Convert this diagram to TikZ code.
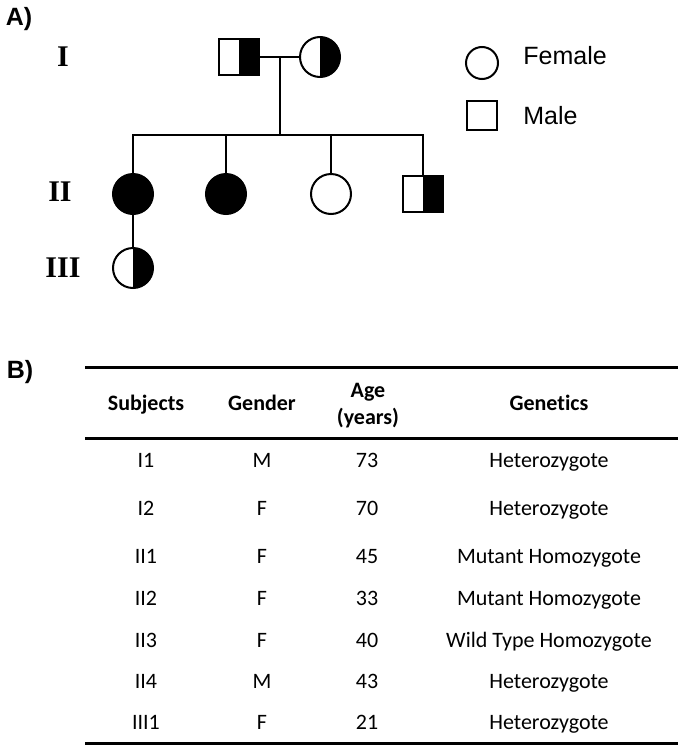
\documentclass[tikz,border=0pt]{standalone}
\usepackage{fontspec}
\setmainfont{Carlito}[Ligatures=NoCommon]
\newfontfamily\armfont{Liberation Sans}
\newfontfamily\genfont{Liberation Serif}
\usetikzlibrary{positioning}
\tikzset{
  female/.style={circle, draw, line width=1pt, minimum size=20pt, inner sep=0pt},
  male/.style={rectangle, draw, line width=1pt, minimum width=20pt, minimum height=18pt, inner sep=0pt},
  affected/.style={fill=black},
  carrier/.style={path picture={\fill[black] (path picture bounding box.north) rectangle (path picture bounding box.south east);}},
  gen/.style={font=\genfont\bfseries\fontsize{15}{16}\selectfont, text height=1.6ex, text depth=0pt},
  legend/.style={font=\armfont\fontsize{12.5}{13}\selectfont, anchor=west, inner sep=0pt, text height=1.6ex, text depth=0pt},
  panel/.style={font=\armfont\bfseries\fontsize{12.5}{13}\selectfont},
  cell/.style={font=\fontsize{11}{12}\selectfont, text height=1.6ex, text depth=0.3ex},
  head/.style={font=\bfseries\fontsize{11}{13.5}\selectfont, align=center, text height=1.6ex, text depth=0.3ex},
  rule/.style={line width=1.5pt},
  link/.style={line width=1pt}
}
\begin{document}
\begin{tikzpicture}[x=0.5pt, y=-0.5pt]
  \useasboundingbox (0,0) rectangle (683,750);
  % pedigree
  \node[panel] (pA) at (19,19) {A)};
  \node[gen] (gI) at (63,59) {I};
  \node[gen] (gII) at (60,194) {II};
  \node[gen] (gIII) at (63,270) {III};
  \node[male, carrier] (I1) at (239,57) {};
  \node[female, carrier] (I2) at (320,57) {};
  \coordinate (mate) at (280,57);
  \coordinate (sib) at (280,135);
  \node[female, affected] (II1) at (133,194) {};
  \node[female, affected] (II2) at (226,194) {};
  \node[female] (II3) at (331,194) {};
  \node[male, carrier] (II4) at (423,194) {};
  \node[female, carrier] (III1) at (133,268) {};
  \draw[link] (I1) -- (I2);
  \draw[link] (mate) -- (sib);
  \draw[link] (II1.north) -- (II1 |- sib) -- (II4 |- sib) -- (II4.north);
  \draw[link] (II2.north) -- (II2 |- sib);
  \draw[link] (II3.north) -- (II3 |- sib);
  \draw[link] (II1) -- (III1);
  % legend
  \node[female, minimum size=16pt] (lf) at (482,63) {};
  \node[legend] (lft) at (523,57) {Female};
  \node[male, minimum width=15pt, minimum height=14.5pt] (lm) at (482,115) {};
  \node[legend] (lmt) at (523,117) {Male};
  % table
  \node[panel] (pB) at (20,372) {B)};
  \coordinate (tl) at (85,367);
  \coordinate (tr) at (678,367);
  \coordinate (ml) at (85,438);
  \coordinate (mr) at (678,438);
  \coordinate (bl) at (85,743);
  \coordinate (br) at (678,743);
  \draw[rule] (tl) -- (tr);
  \draw[rule] (ml) -- (mr);
  \draw[rule] (bl) -- (br);
  \node[head] (hs) at (146,404) {Subjects};
  \node[head] (hg) at (262,404) {Gender};
  \node[head, text height=, text depth=] (ha) at (368,406) {Age\\(years)};
  \node[head] (hc) at (549,404) {Genetics};
  \foreach \s/\g/\a/\t/\y [count=\i] in {I1/M/73/Heterozygote/461,
      I2/F/70/Heterozygote/509,
      II1/F/45/Mutant Homozygote/557,
      II2/F/33/Mutant Homozygote/599,
      II3/F/40/Wild Type Homozygote/641,
      II4/M/43/Heterozygote/682,
      III1/F/21/Heterozygote/723}{
    \node[cell] (s\i) at (146,\y) {\s};
    \node[cell] (g\i) at (262,\y) {\g};
    \node[cell] (a\i) at (367,\y) {\a};
    \node[cell] (c\i) at (549,\y) {\t};
  }
\end{tikzpicture}
\end{document}
